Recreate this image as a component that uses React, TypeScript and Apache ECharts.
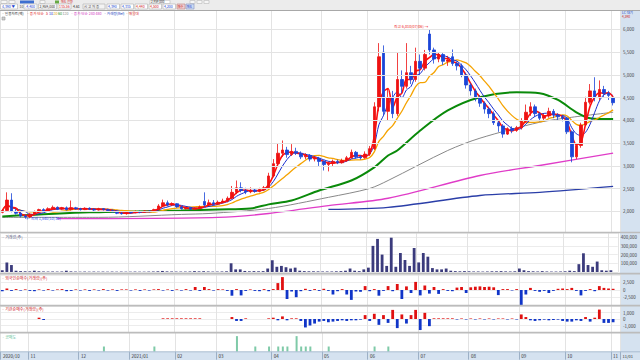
import React, { useEffect, useRef } from "react";
import * as echarts from "echarts";

const CATS = 135;
const monthStarts = [0, 6, 17, 28, 38, 47, 59, 70, 80, 91, 102, 113, 123, 133];
const monthLabels = ["2020/10", "11", "12", "2021/01", "02", "03", "04", "05", "06", "07", "08", "09", "10", "11"];
const priceTicks = [2000, 2500, 3000, 3500, 4000, 4500, 5000, 5500, 6000];

const opens = [
  1980, 2020, 2250, 2000, 1960, 1900, 1880, 1940, 1990, 2040,
  2010, 2060, 2090, 2050, 2080, 2040, 2080, 2060, 2040, 2070,
  2050, 2030, 2060, 2040, 2020, 1990, 1960, 1950, 1980, 1970,
  2000, 1980, 2010, 2000, 2040, 2120, 2190, 2140, 2170, 2100,
  2060, 2080, 2050, 2070, 2220, 2140, 2190, 2160, 2200, 2230,
  2290, 2420, 2520, 2460, 2430, 2470, 2440, 2480, 2520, 2780,
  3050, 3280, 3350, 3250, 3320, 3280, 3200, 3230, 3150, 3170,
  3100, 3030, 3060, 3100, 3070, 3120, 3180, 3300, 3200, 3180,
  3260, 3380, 4300, 5500, 4200, 4500, 4150, 4900, 4750, 5050,
  4900, 5300, 5150, 5900, 5550, 5350, 5450, 5300, 5400, 5250,
  5200, 5000, 4780, 4650, 4500, 4380, 4250, 4150, 3950, 3880,
  3700, 3820, 3780, 3840, 3980, 4180, 4300, 4150, 4050, 4100,
  4200, 4120, 4080, 4050, 3750, 3200, 3450, 3900, 4400, 4650,
  4500, 4680, 4600, 4500,
];
const closes = [
  2020, 2250, 2000, 1960, 1900, 1880, 1940, 1990, 2040, 2010,
  2060, 2090, 2050, 2080, 2040, 2080, 2060, 2040, 2070, 2050,
  2030, 2060, 2040, 2020, 1990, 1960, 1950, 1980, 1970, 2000,
  1980, 2010, 2000, 2040, 2120, 2190, 2140, 2170, 2100, 2060,
  2080, 2050, 2070, 2100, 2140, 2190, 2160, 2200, 2230, 2290,
  2420, 2520, 2460, 2430, 2470, 2440, 2480, 2520, 2780, 3050,
  3280, 3350, 3250, 3320, 3280, 3200, 3230, 3150, 3170, 3100,
  3030, 3060, 3100, 3070, 3120, 3180, 3300, 3200, 3180, 3260,
  3380, 4300, 5400, 4200, 4500, 4150, 4900, 4750, 5050, 4900,
  5300, 5150, 5450, 5550, 5350, 5450, 5300, 5330, 5250, 5200,
  5000, 4780, 4650, 4500, 4380, 4250, 4150, 3950, 3880, 3700,
  3820, 3780, 3840, 3980, 4180, 4300, 4150, 4050, 4100, 4200,
  4120, 4080, 4050, 3750, 3200, 3450, 3900, 4400, 4650, 4500,
  4680, 4600, 4550, 4390,
];
const lows = [
  1960, 2000, 1980, 1930, 1870, 1840, 1860, 1920, 1970, 1990,
  2000, 2040, 2030, 2030, 2020, 2020, 2040, 2020, 2030, 2030,
  2010, 2020, 2020, 2000, 1970, 1940, 1930, 1930, 1950, 1960,
  1960, 1970, 1980, 1990, 2030, 2100, 2110, 2120, 2080, 2040,
  2040, 2030, 2030, 2050, 2100, 2120, 2130, 2140, 2180, 2200,
  2270, 2380, 2420, 2380, 2400, 2410, 2420, 2460, 2500, 2750,
  3000, 3200, 3180, 3220, 3240, 3150, 3150, 3100, 3100, 3000,
  2900, 2880, 3000, 3040, 3050, 3090, 3160, 3160, 3140, 3160,
  3220, 3350, 4200, 4100, 4000, 4050, 4100, 4600, 4700, 4800,
  4850, 5000, 5100, 5450, 5250, 5280, 5220, 5200, 5200, 5100,
  4950, 4700, 4550, 4420, 4300, 4150, 4050, 3900, 3750, 3620,
  3680, 3720, 3750, 3800, 3950, 4100, 4080, 3980, 4000, 4060,
  4050, 4000, 3980, 3700, 3080, 3150, 3400, 3880, 4350, 4420,
  4450, 4500, 4450, 4330,
];
const highs = [
  2040, 2420, 2400, 2060, 1990, 1930, 1960, 2020, 2060, 2070,
  2090, 2130, 2110, 2100, 2110, 2240, 2100, 2080, 2090, 2090,
  2070, 2080, 2070, 2060, 2040, 2010, 1990, 2000, 2010, 2020,
  2020, 2030, 2030, 2060, 2160, 2260, 2240, 2200, 2180, 2120,
  2100, 2090, 2090, 2130, 2420, 2260, 2250, 2240, 2280, 2330,
  2560, 2680, 2640, 2520, 2530, 2500, 2520, 2560, 2850, 3150,
  3500, 3560, 3420, 3480, 3400, 3320, 3280, 3260, 3220, 3200,
  3120, 3100, 3140, 3140, 3160, 3220, 3360, 3330, 3240, 3320,
  3440, 4400, 5700, 5650, 4700, 4650, 5500, 5100, 5700, 5200,
  5600, 5450, 5550, 6010, 5600, 5500, 5480, 5420, 5560, 5300,
  5250, 5050, 4820, 4700, 4560, 4420, 4300, 4200, 4000, 3920,
  3850, 3870, 3880, 4050, 4350, 4400, 4350, 4180, 4150, 4280,
  4250, 4160, 4120, 4080, 3780, 3500, 3950, 4520, 4800, 4950,
  4880, 4760, 4650, 4520,
];
const volumes = [
  20000, 110000, 80000, 15000, 10000, 8000, 7000, 15000, 8000, 6000,
  5000, 6000, 5000, 6000, 15000, 7000, 5000, 4000, 5000, 4000,
  5000, 4000, 5000, 4000, 5000, 4000, 5000, 4000, 4000, 5000,
  4000, 4000, 5000, 6000, 8000, 12000, 7000, 6000, 5000, 5000,
  5000, 6000, 10000, 7000, 9000, 6000, 5000, 5000, 6000, 8000,
  100000, 30000, 30000, 12000, 8000, 10000, 8000, 10000, 40000, 135000,
  60000, 70000, 55000, 40000, 50000, 15000, 10000, 8000, 8000, 7000,
  6000, 6000, 6000, 8000, 10000, 15000, 40000, 15000, 10000, 30000,
  50000, 300000, 380000, 200000, 70000, 394000, 60000, 218000, 138000, 70000,
  276000, 110000, 218000, 176000, 45000, 30000, 30000, 40000, 15000, 10000,
  8000, 10000, 8000, 6000, 6000, 5000, 6000, 8000, 8000, 10000,
  7000, 6000, 8000, 40000, 20000, 10000, 8000, 6000, 10000, 6000,
  5000, 5000, 6000, 8000, 15000, 10000, 90000, 215000, 80000, 60000,
  120000, 20000, 15000, 20000,
];
const foreignNet = [
  -400, 500, -300, 300, -200, 200, -300, -400, 200, -200,
  300, -200, 200, 300, -400, -300, 200, -200, 200, -300,
  200, -200, 300, -200, 200, -300, 200, 200, -200, 200,
  -300, 200, -200, 200, 300, -200, 200, -300, 200, -200,
  300, -200, 1000, -300, 1000, 300, -200, 300, 200, -300,
  -1900, 300, -1800, -300, 200, -300, -400, 300, -400, 300,
  2300, 4300, -3000, -500, -2400, -400, 400, -300, 300, -300,
  400, -300, -1500, -400, 300, -1500, -3300, -500, -600, 1300,
  -400, 300, -1900, -300, 1300, -400, 2000, -3000, 1200, -1000,
  2700, -1800, 1500, -1200, 1000, -1300, 300, -300, -400, 800,
  1000, -1000, 900, 1100, 1200, 1000, 1100, 900, -1700, 300,
  300, -200, 300, -5000, -1500, 700, -300, -600, -300, -1000,
  -300, 400, 500, 300, 700, -300, -1800, -300, 300, -400,
  1300, 700, 500, 400,
];
const instNet = [
  0, 0, 0, 0, 0, 0, 0, 0, 200, -150,
  0, 0, 0, 0, 0, 0, 0, 0, 0, 0,
  0, 0, 0, 0, 0, 0, 0, 0, 0, 0,
  0, 0, 0, 0, 0, 100, 100, 100, 100, 100,
  100, 100, 100, 100, 0, 0, 0, 0, 0, 0,
  300, -300, -300, 100, 0, 0, 0, 0, 100, 200,
  -200, 400, -200, 100, 100, -300, -1300, -1000, -700, -400,
  -300, -500, -400, -300, -200, -300, -200, -200, -100, 600,
  -300, 800, -900, 600, -600, 1400, -1400, 700, -700, 600,
  1400, -1700, 950, -1100, 100, 100, 100, 100, 100, -80,
  80, -80, 80, -80, 80, -80, 80, -80, 80, 80,
  -80, 80, -80, 700, 300, -200, -300, -200, -100, -200,
  -150, -100, -300, -400, -400, -200, -300, 300, -400, 200,
  1450, -600, -600, -500,
];
const shortDays = [22, 33, 51, 55, 58, 60, 61, 62, 64, 65, 66, 67, 71, 81, 84];
const shortQty = [1, 1, 3, 1, 1, 1, 1, 1, 3, 1, 1, 1, 1, 1, 1];

const ma60Pts = [[0, 1890], [19, 1980], [39, 2020], [47, 2045], [54, 2065], [58, 2155], [63, 2240], [69, 2460], [76, 2680], [81, 2970], [84, 3230], [86, 3340], [91, 3780], [97, 4220], [104, 4510], [112, 4620], [117, 4600], [121, 4450], [125, 4180], [128, 4050], [133, 4030]];
const ma120Pts = [[0, 1870], [21, 1870], [39, 1935], [45, 1955], [58, 2065], [71, 2310], [80, 2505], [84, 2680], [97, 3340], [104, 3610], [117, 3960], [124, 4070], [133, 4180]];
const ma240Pts = [[12, 1840], [47, 1868], [58, 1955], [71, 2130], [84, 2290], [104, 2790], [117, 3010], [133, 3280]];
const ma480Pts = [[71, 2045], [84, 2090], [104, 2350], [117, 2420], [133, 2550]];

const FONT = '"Noto Sans CJK KR", "Noto Sans", sans-serif';
const UP = "#ee1111";
const DOWN = "#1b45d8";

function sma(arr: number[], n: number) {
  return arr.map((_, i) => {
    const s = Math.max(0, i - n + 1);
    let sum = 0;
    for (let k = s; k <= i; k++) sum += arr[k];
    return Math.round(sum / (i - s + 1));
  });
}

function txt(x: number, y: number, text: string, fill: string, size = 5, extra: any = {}) {
  return { type: "text", x, y, z: 20, style: { text, fill, fontSize: size, fontFamily: FONT, verticalAlign: "middle", ...extra } };
}
function rect(x: number, y: number, w: number, h: number, fill: string, stroke?: string, z = 0) {
  return { type: "rect", z, shape: { x, y, width: w, height: h }, style: { fill, stroke: stroke || null, lineWidth: stroke ? 0.6 : 0 } };
}
function hline(y: number, x1: number, x2: number, color: string, w = 1, z = 5) {
  return { type: "line", z, shape: { x1, y1: y, x2, y2: y }, style: { stroke: color, lineWidth: w } };
}

function buildOption() {
  const cats = Array.from({ length: CATS }, (_, i) => String(i));
  const monthSet = new Set(monthStarts);
  const isMonth = (i: number) => monthSet.has(i);
  const mkX = (gi: number, labels: boolean) => ({
    type: "category",
    gridIndex: gi,
    data: cats,
    boundaryGap: true,
    axisLine: { show: false },
    axisTick: { show: labels, interval: isMonth, length: 8, lineStyle: { color: "#9cb0c6" } },
    axisLabel: {
      show: labels,
      interval: isMonth,
      formatter: (v: string) => monthLabels[monthStarts.indexOf(Number(v))] || "",
      fontSize: 4.5,
      color: "#333",
      align: "left",
      margin: 2.5,
      fontFamily: FONT,
    },
    splitLine: { show: true, interval: isMonth, lineStyle: { color: "#e3e3e3", width: 1 } },
  });
  const fmt = (lim: number) => (v: number) => (Math.abs(v) > lim ? "" : Number(v).toLocaleString("en-US"));
  const mkY = (gi: number, min: number, max: number, interval: number, lim: number) => ({
    type: "value",
    gridIndex: gi,
    position: "right",
    min,
    max,
    interval,
    axisLine: { show: false },
    axisTick: { show: false },
    axisLabel: { fontSize: 4.5, color: "#444", margin: 3, formatter: fmt(lim), showMinLabel: false, showMaxLabel: false, fontFamily: FONT },
    splitLine: { lineStyle: { color: "#ececec", width: 1 } },
  });

  const candleData = opens.map((o, i) => [o, closes[i], lows[i], highs[i]]);
  const shortArr = cats.map((_, i) => {
    const k = shortDays.indexOf(i);
    return k >= 0 ? shortQty[k] : null;
  });
  const signColored = (arr: number[]) =>
    arr.map((v) => ({ value: v, itemStyle: { color: v >= 0 ? "#e01010" : "#1035c8" } }));
  const lastClose = closes[closes.length - 1];
  const lastVol = volumes[volumes.length - 1];

  const maLine = (name: string, data: any, color: string, width: number, xIdx: number, smooth: any = false) => ({
    name,
    type: "line",
    xAxisIndex: xIdx,
    yAxisIndex: 0,
    data,
    symbol: "none",
    smooth,
    z: 3,
    lineStyle: { color, width },
    silent: true,
  });

  const S = 3.5;
  const graphic: any[] = [
    rect(0, 0, 640, 10, "#ececec"),
    rect(620, 10, 20, 342, "#d5e2f0"),
    rect(0, 352, 640, 8, "#d5e2f0"),
    hline(10.5, 0, 640, "#a8a8a8", 1),
    hline(232.5, 0, 640, "#bcbcbc", 1.6),
    hline(273.6, 0, 640, "#bcbcbc", 1.6),
    hline(305.6, 0, 640, "#bcbcbc", 1.6),
    hline(332.6, 0, 640, "#bcbcbc", 1.6),
    hline(351.8, 0, 640, "#a9bcd0", 1),
    // toolbar row 1
    rect(1, 0.5, 6, 3, "#f6f6f6", "#bbbbbb"),
    rect(9, 0.5, 6, 3, "#f6f6f6", "#bbbbbb"),
    rect(20, 0.5, 14, 3, "#3d6fd0"),
    rect(40, 0.5, 5, 3, "#f6f6f6", "#bbbbbb"),
    rect(55, 0.5, 4, 3, "#66aa44"),
    txt(61, 2, "매도 잔량", "#d02020", 3),
    rect(150, 0.3, 20, 3.4, "#ffffff", "#bbbbbb"),
    txt(151, 2, "2,959,000", "#222", 3),
    rect(190, 0.5, 5, 3, "#f6f6f6", "#bbbbbb"),
    rect(197, 0.5, 5, 3, "#f6f6f6", "#bbbbbb"),
    rect(204, 0.5, 5, 3, "#f6f6f6", "#bbbbbb"),
    // toolbar row 2
    rect(0.5, 4, 17, 5, "#ffffff", "#b0b0b0"),
    txt(2, 6.6, "4,390 ▼", "#1a3fd0", S),
    txt(19.5, 6.6, "10", "#555", S),
    rect(24, 4, 13, 5, "#ffffff", "#b0b0b0"),
    txt(25, 6.6, "-4,400", "#1a3fd0", S),
    rect(38.5, 4, 18, 5, "#ffffff", "#b0b0b0"),
    txt(39.5, 6.6, "2,959,000", "#222", S),
    rect(58, 4, 13, 5, "#ffffff", "#b0b0b0"),
    txt(59, 6.6, "135.56", "#d02020", S),
    txt(73, 6.6, "4.61", "#222", S),
    rect(83, 4, 22, 5, "#f3f3f3", "#b0b0b0"),
    txt(84, 6.6, "시 고 저 종", "#444", S),
    rect(107, 4, 12.5, 5, "#ffffff", "#b0b0b0"),
    txt(108, 6.6, "4,390", "#1a3fd0", S),
    rect(121, 4, 12.5, 5, "#ffffff", "#b0b0b0"),
    txt(122, 6.6, "4,335", "#1a3fd0", S),
    rect(135, 4, 12.5, 5, "#ffffff", "#b0b0b0"),
    txt(136, 6.6, "4,440", "#d02020", S),
    rect(149, 4, 12.5, 5, "#ffffff", "#b0b0b0"),
    txt(150, 6.6, "4,500", "#d02020", S),
    rect(163, 4, 12.5, 5, "#ffffff", "#b0b0b0"),
    txt(164, 6.6, "4,200", "#1a3fd0", S),
    rect(177, 4, 8, 5, "#f0d0d0", "#c08080"),
    txt(177.7, 6.6, "매수", "#c01010", 3),
    rect(186, 4, 8, 5, "#d0dcf4", "#8090c0"),
    txt(186.7, 6.6, "매도", "#1030c0", 3),
    // legend row
    txt(2, 13.6, "· 일봉차트(백)", "#333", 3.6),
    txt(27, 13.6, "· 종가 단순", "#e02020", 3.6),
    txt(46, 13.6, "5", "#e02020", 3.6),
    txt(49, 13.6, "10", "#1a30d0", 3.6),
    txt(53.5, 13.6, "20", "#e89a00", 3.6),
    txt(58, 13.6, "60", "#089008", 3.6),
    txt(62.5, 13.6, "120", "#888", 3.6),
    txt(71, 13.6, "· 종가 단순 240 480", "#d030c0", 3.6),
    txt(104, 13.6, "· 거래량(Ref)", "#2040c0", 3.6),
    txt(126, 13.6, "· 매물대", "#d02020", 3.6),
    rect(2, 17, 3, 3, "#cfcfcf", "#999"),
    txt(622, 12.3, "LC 대기", "#2040c0", 3.4),
    txt(622, 16.4, "4,390", "#d02020", 3.2),
    // panel headers
    txt(2, 236.5, "· 거래량(주)", "#555577", 4),
    txt(2, 277.5, "· 외국인순매수(거래량)(주)", "#d02020", 4),
    txt(2, 309, "· 기관순매수(거래량)(주)", "#d02020", 4),
    txt(2, 336.5, "· 공매도", "#6cbf9a", 4),
    txt(622.5, 356, "11/01", "#333", 4),
  ];

  return {
    animation: false,
    textStyle: { fontFamily: FONT },
    graphic,
    grid: [
      { left: 0, width: 620, top: 10.5, height: 221.5 },
      { left: 0, width: 620, top: 233, height: 39 },
      { left: 0, width: 620, top: 274, height: 31 },
      { left: 0, width: 620, top: 306, height: 26 },
      { left: 0, width: 620, top: 333, height: 18.7 },
    ],
    xAxis: [
      mkX(0, false),
      mkX(1, false),
      mkX(2, false),
      mkX(3, false),
      mkX(4, true),
      { type: "value", gridIndex: 0, min: -0.5, max: CATS - 0.5, show: false },
    ],
    yAxis: [
      { type: "value", gridIndex: 0, min: 1548, max: 6417, show: false },
      mkY(1, 0, 448000, 100000, 400000),
      mkY(2, -5000, 5333, 2500, 2500),
      mkY(3, -2000, 2000, 1000, 1000),
      { type: "value", gridIndex: 4, min: 0, max: 3.6, show: false },
    ],
    series: [
      {
        name: "grid",
        type: "line",
        xAxisIndex: 0,
        yAxisIndex: 0,
        data: cats.map(() => null),
        z: 1,
        silent: true,
        markLine: {
          silent: true,
          symbol: "none",
          animation: false,
          lineStyle: { color: "#e3e3e3", type: "solid", width: 1 },
          label: {
            position: "end",
            distance: 3,
            fontSize: 4.5,
            color: "#444",
            fontFamily: FONT,
            formatter: (p: any) => Number(p.value).toLocaleString("en-US"),
          },
          data: [
            ...priceTicks.map((v) => ({ yAxis: v })),
            {
              yAxis: lastClose,
              lineStyle: { opacity: 0 },
              label: {
                backgroundColor: "#1c3fcf",
                color: "#fff",
                padding: [0.5, 3],
                distance: 1,
                fontSize: 4.2,
              },
            },
          ],
        },
      },
      maLine("MA480", ma480Pts, "#2a3ea8", 1.3, 5, 0.3),
      maLine("MA240", ma240Pts, "#e03cc8", 1.3, 5, 0.3),
      maLine("MA120", ma120Pts, "#888888", 1, 5, 0.3),
      maLine("MA60", ma60Pts, "#0a8a0a", 2, 5, 0.3),
      {
        name: "candle",
        type: "candlestick",
        xAxisIndex: 0,
        yAxisIndex: 0,
        data: candleData,
        barWidth: 3,
        z: 4,
        itemStyle: { color: UP, color0: DOWN, borderColor: UP, borderColor0: DOWN, borderWidth: 0.8 },
        markPoint: {
          symbol: "circle",
          symbolSize: 0,
          silent: true,
          data: [
            {
              coord: ["93", 6010],
              label: { show: true, position: "left", distance: 1, formatter: "최고 6,010(07/06) →", color: "#ee2222", fontSize: 3.8, offset: [0, -3] },
            },
            {
              coord: ["5", 1840],
              label: { show: true, position: "right", distance: 1, formatter: "← 최저 1,840(10/30)", color: "#2244ee", fontSize: 3.8 },
            },
          ],
        },
      },
      maLine("MA20", sma(closes, 10), "#f5a300", 1.3, 0, 0.3),
      maLine("MA10", sma(closes, 5), "#1a2fd0", 1, 0, 0.3),
      maLine("MA5", sma(closes, 3), "#ff1010", 1.6, 0, 0.3),
      {
        name: "volume",
        type: "bar",
        xAxisIndex: 1,
        yAxisIndex: 1,
        data: volumes,
        barWidth: 2.8,
        itemStyle: { color: "#3b3b7c" },
        markLine: {
          silent: true,
          symbol: "none",
          lineStyle: { opacity: 0 },
          label: {
            position: "end",
            distance: 1,
            fontSize: 4,
            color: "#fff",
            backgroundColor: "#ff22ee",
            padding: [0.5, 2],
            formatter: (p: any) => Number(p.value).toLocaleString("en-US"),
          },
          data: [{ yAxis: lastVol }],
        },
      },
      { name: "foreign", type: "bar", xAxisIndex: 2, yAxisIndex: 2, data: signColored(foreignNet), barWidth: 2.8 },
      { name: "inst", type: "bar", xAxisIndex: 3, yAxisIndex: 3, data: signColored(instNet), barWidth: 2.8 },
      { name: "short", type: "bar", xAxisIndex: 4, yAxisIndex: 4, data: shortArr, barWidth: 2, itemStyle: { color: "#7fcaa8" } },
    ],
  };
}

export default function App() {
  const ref = useRef<HTMLDivElement>(null);
  useEffect(() => {
    if (!ref.current) return;
    const chart = echarts.init(ref.current, null, { renderer: "svg" });
    chart.setOption(buildOption() as any);
    return () => chart.dispose();
  }, []);
  return (
    <div
      ref={ref}
      style={{ position: "fixed", left: 0, top: 0, width: 640, height: 360, background: "#ffffff" }}
    />
  );
}
